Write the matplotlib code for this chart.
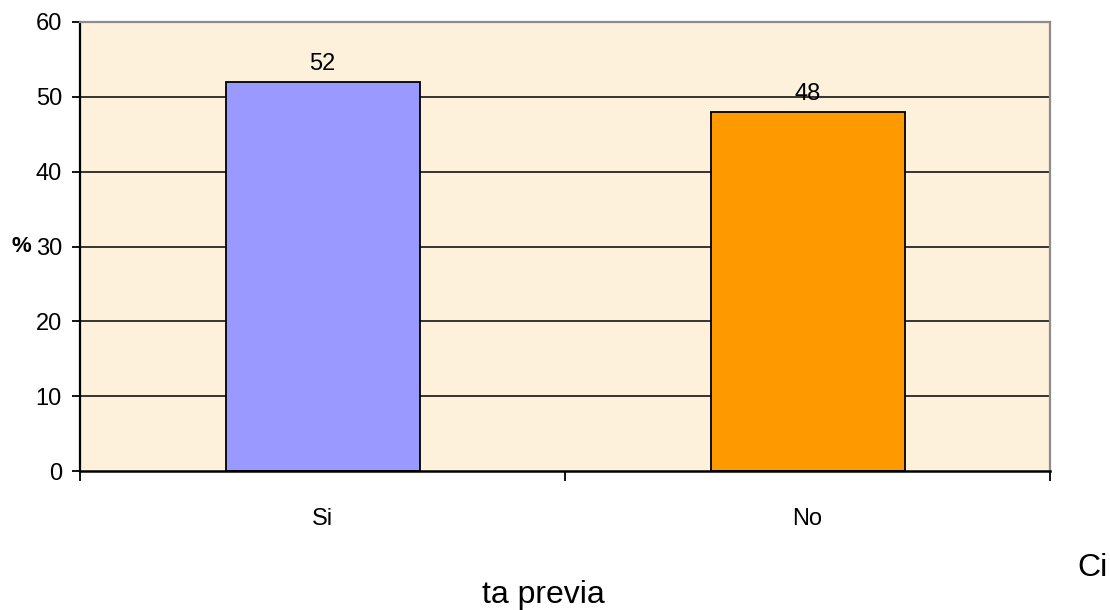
import matplotlib
matplotlib.use("Agg")
import matplotlib.pyplot as plt
import numpy as np

plt.rcParams['font.family'] = ['Liberation Sans', 'DejaVu Sans']

categories = ["Si", "No"]
values = [52, 48]
bar_colors = ["#9999FF", "#FF9900"]
y_ticks = [0, 10, 20, 30, 40, 50, 60]

fig = plt.figure(figsize=(11.1, 6.1), dpi=100)
ax = fig.add_axes([80 / 1110, 1 - 471 / 610, 970 / 1110, 449 / 610])
ax.set_facecolor("#FDF1DB")

x = np.arange(len(categories)) + 0.5
ax.set_xlim(0, len(categories))
ax.set_ylim(0, 60)

for yv in y_ticks[1:-1]:
    ax.axhline(yv, color="black", lw=1.1, zorder=1)

bars = ax.bar(x, values, width=0.4, color=bar_colors, edgecolor="black",
              linewidth=1.3, zorder=2)
for xi, v in zip(x, values):
    ax.text(xi, v + 2.4, f"{v}", ha="center", va="center", fontsize=17, zorder=3)

ax.set_yticks(y_ticks)
ax.set_yticklabels([str(t) for t in y_ticks], fontsize=17)
ax.set_xticks(np.arange(len(categories) + 1))
ax.set_xticklabels([])
for xi, c in zip(x, categories):
    ax.text(xi, -0.107, c, transform=ax.get_xaxis_transform(), ha="center",
            va="center", fontsize=17)

ax.tick_params(axis="y", direction="out", length=6, width=1.3, color="black", pad=7)
ax.tick_params(axis="x", direction="out", length=7, width=1.3, color="black")

ax.spines["left"].set_color("black")
ax.spines["left"].set_linewidth(1.6)
ax.spines["bottom"].set_color("black")
ax.spines["bottom"].set_linewidth(1.8)
ax.spines["top"].set_color("#8C8C8C")
ax.spines["top"].set_linewidth(1.6)
ax.spines["right"].set_color("#8C8C8C")
ax.spines["right"].set_linewidth(1.6)

fig.text(21 / 1110, 1 - 246 / 610, "%", fontsize=16, fontweight="bold",
         ha="center", va="center")
fig.text(1077 / 1110, 1 - 576 / 610, "Ci", fontsize=23, ha="left", va="baseline")
fig.text(543 / 1110, 1 - 603 / 610, "ta previa", fontsize=23, ha="center",
         va="baseline")

fig.savefig("out.png", dpi=100)
